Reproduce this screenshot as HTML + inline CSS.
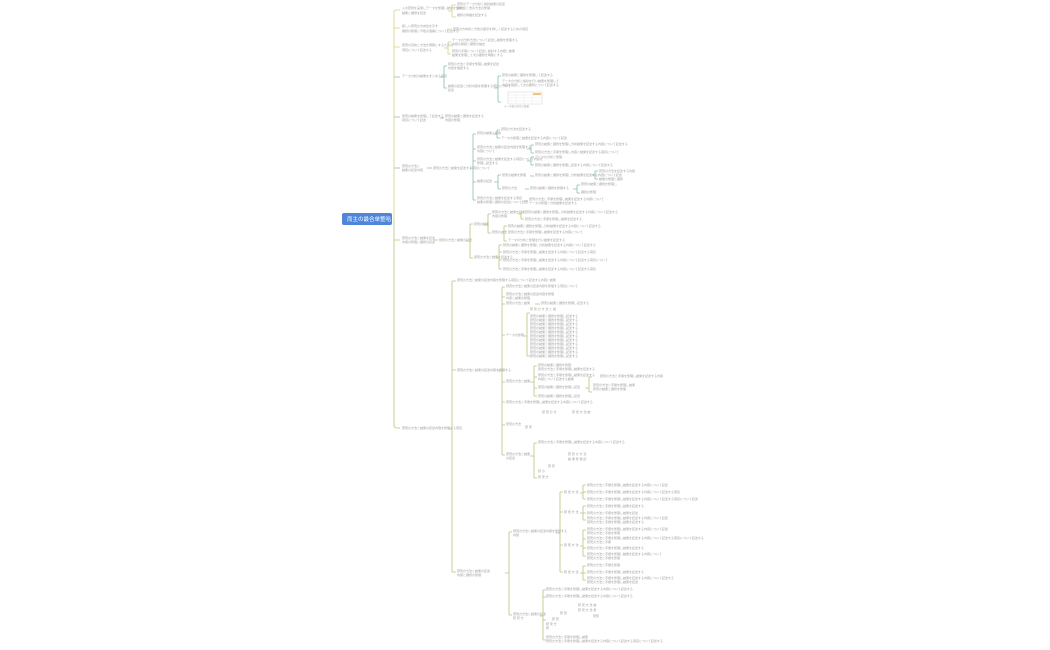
<!DOCTYPE html>
<html><head><meta charset="utf-8"><style>
html,body{margin:0;padding:0;background:#fff;width:1050px;height:650px;overflow:hidden}
svg{display:block}
text{font-family:"Liberation Sans","Noto Sans CJK JP",sans-serif;font-size:3px;fill:#a0a0a0}
.y{stroke:#d8cf86;fill:none;stroke-width:.8}
.t{stroke:#8dbfb3;fill:none;stroke-width:.8}
.g{stroke:#b9c47f;fill:none;stroke-width:.8}
</style></head><body>
<svg width="1050" height="650" viewBox="0 0 1050 650" xmlns="http://www.w3.org/2000/svg">
<path class="y" d="M394 220 V12 Q394 10 397 10 H400"/>
<path class="y" d="M394 28 H400 M394 47 H400"/>
<path class="t" d="M394 77 H400 M394 117 H400 M394 168 H400"/>
<path class="g" d="M394 220 V425 Q394 428 397 428 H400 M394 240 H400"/>
<rect x="342" y="213" width="50" height="12" rx="2" fill="#4f86d9"/>
<text x="347" y="221" style="fill:#fff;font-size:5.5px">而主の最合单整哈</text>

<text x="402" y="9">人の研究を実施しデータを整理し結果を集めた</text><text x="402" y="14">結果と課題を記述</text>
<path class="y" d="M448 11 H452 M452 5 V17 M452 5 H456 M452 17 H456"/>
<text x="457" y="5">研究のデータ分析と検討結果の記述</text><text x="457" y="9">課題点と改善方法の整理</text>
<text x="457" y="16">課題の詳細を記述する</text>
<text x="402" y="27">新しい研究の方向性を示す</text><text x="402" y="32">課題の整理と今後の展開について記述する</text>
<path class="y" d="M447 29 H452" style="stroke-width:.5"/>
<text x="453" y="30">研究の方向性と今後の展望を詳しく記述するための項目</text>
<text x="402" y="46">研究の目的と方法を明確にするための</text><text x="402" y="51">項目について記述する</text>
<path class="y" d="M444 48 H448 M448 42 V54 M448 42 H451 M448 54 H451"/>
<text x="452" y="41">データの分析方法について記述し結果を整理する</text><text x="452" y="45">内容の確認と課題の抽出</text>
<text x="452" y="52">研究の手順について記述し検討する内容と結果</text><text x="452" y="56">結果を整理して次の課題を明確にする</text>
<text x="402" y="77">データ分析の結果をまとめる項目</text>
<path class="t" d="M440 77 H444 M444 66 V88 M444 66 H447 M444 88 H447"/>
<text x="448" y="65">研究の方法と手順を整理し結果を記述</text><text x="448" y="69">内容を確認する</text>
<text x="448" y="87">結果の記述と分析内容を整理する項目について</text><text x="448" y="91">記述</text>
<path class="t" d="M494 88 H498 M498 76 V102 M498 76 H501 M498 102 H501"/>
<text x="502" y="76">研究の結果と課題を整理して記述する</text>
<text x="502" y="82">データの分析と検討を行い結果を整理して</text><text x="502" y="86">内容を確認して次の課題について記述する</text>
<rect x="508" y="92" width="34" height="12" fill="#fff" stroke="#ccc" stroke-width=".4"/>
<path d="M508 95 H542 M508 98 H542 M508 101 H542 M516 92 V104 M524 92 V104 M532 92 V104" stroke="#ddd" stroke-width=".3"/>
<rect x="533" y="93" width="8" height="2" fill="#f3c37a"/>
<text x="504" y="107" style="font-size:2.5px">データ表の記述と結果</text>
<text x="402" y="117">研究の結果を整理して記述する</text><text x="402" y="121">項目について記述</text>
<path class="t" d="M440 118 H444"/>
<text x="445" y="117">研究の結果と課題を記述する</text><text x="445" y="121">内容の整理</text>
<text x="402" y="167">研究の方法と</text><text x="402" y="171">結果の記述内容</text>
<path class="t" d="M427 168 H432"/>
<text x="433" y="169">研究の方法と結果を記述する項目について</text>
<path class="t" d="M470 168 H473 M473 134 V200 M473 134 H476 M473 149 H476 M473 161 H476 M473 182 H476 M473 200 H476"/>
<text x="477" y="134">研究の結果と課題</text>
<path class="t" d="M493 134 H497 M497 130 V138 M497 130 H500 M497 138 H500"/>
<text x="501" y="130">研究の方法を記述する</text><text x="501" y="139">データの整理と結果を記述する内容について記述</text>
<text x="477" y="148">研究の方法と結果の記述内容を整理する</text><text x="477" y="152">内容について</text>
<path class="t" d="M527 149 H531 M531 145 V153 M531 145 H534 M531 153 H534"/>
<text x="535" y="145">研究の結果と課題を整理し分析結果を記述する内容について記述する</text>
<text x="535" y="153">研究の方法と手順を整理し内容と結果を記述する項目について</text>
<text x="477" y="160">研究の方法と結果を記述する項目について内容を</text><text x="477" y="164">整理し記述する</text>
<path class="t" d="M527 161 H531 M531 157 V165 M531 157 H534 M531 165 H534"/>
<text x="535" y="158">データの分析と整理</text><text x="535" y="166">研究の結果と課題を整理し記述する内容について記述する</text>
<text x="477" y="182">結果の記述</text>
<path class="t" d="M494 182 H498 M498 175 V189 M498 175 H501 M498 189 H501"/>
<text x="502" y="176">研究の結果を整理</text>
<path class="t" d="M530 176 H534"/>
<text x="535" y="176">研究の結果と課題を整理し分析結果を記述する内容について記述</text>
<path class="t" d="M592 175 H595 M595 171 V179 M595 171 H598 M595 179 H598"/>
<text x="599" y="172">研究の方法を記述する内容</text><text x="599" y="180">結果の整理と課題</text>
<text x="502" y="189">研究の方法</text>
<path class="t" d="M525 189 H529"/>
<text x="530" y="189">研究の結果と課題を整理する</text>
<path class="t" d="M573 189 H577 M577 185 V193 M577 185 H580 M577 193 H580"/>
<text x="581" y="185">研究の結果と課題を整理し</text><text x="581" y="193">課題の整理</text>
<text x="477" y="199">研究の方法と結果を記述する項目</text><text x="477" y="203">結果の整理と課題の記述について記述</text>
<path class="t" d="M524 201 H528"/>
<text x="529" y="200">研究の方法と手順を整理し結果を記述する内容について</text><text x="529" y="204">データの整理と分析結果を記述する</text>

<text x="402" y="239">研究の方法と結果を記述</text><text x="402" y="243">内容の整理と課題の記述</text>
<path class="g" d="M434 240 H438"/>
<text x="439" y="241">研究の方法と結果の記述</text>
<path class="g" d="M466 241 H470 M470 224 V258 M470 224 H473 M470 258 H473"/>
<text x="474" y="225">研究の結果</text>
<path class="g" d="M484 225 H488 M488 214 V233 M488 214 H491 M488 233 H491"/>
<text x="492" y="213">研究の方法と結果を記述</text><text x="492" y="217">内容の整理</text>
<path class="g" d="M518 214 H521 M521 212 V219 M521 212 H524 M521 219 H524"/>
<text x="525" y="213">研究の結果と課題を整理し分析結果を記述する内容について記述する</text>
<text x="525" y="220">研究の方法と手順を整理し結果を記述する</text>
<text x="492" y="233">研究の方法</text>
<path class="g" d="M501 233 H504 M504 226 V241 M504 226 H507 M504 241 H507"/>
<text x="508" y="227">研究の結果と課題を整理し分析結果を記述する内容について記述する</text>
<text x="508" y="233">研究の方法と手順を整理し結果を記述する内容について</text>
<text x="508" y="241">データの分析と整理を行い結果を記述する</text>
<text x="474" y="258">研究の方法と結果を記述する</text>
<path class="g" d="M496 258 H499 M499 245 V269 M499 245 H502 M499 252 H502 M499 260 H502 M499 269 H502"/>
<text x="503" y="246">研究の結果と課題を整理し分析結果を記述する内容について記述する</text>
<text x="503" y="253">研究の方法と手順を整理し結果を記述する内容について記述する項目</text>
<text x="503" y="261">研究の方法と手順を整理し結果を記述する内容について記述する項目について</text>
<text x="503" y="270">研究の方法と手順を整理し結果を記述する内容について記述する項目</text>

<text x="402" y="429">研究の方法と結果の記述内容を整理する項目</text>
<path class="g" d="M448 429 H452 M452 281 V572 M452 281 H456 M452 370 H456 M452 572 H456"/>
<text x="457" y="281">研究の方法と結果の記述内容を整理する項目について記述する内容と結果</text>
<text x="457" y="371">研究の方法と結果の記述内容を整理する</text>
<path class="g" d="M498 371 H502 M502 287 V455 M502 287 H505 M502 297 H505 M502 304 H505 M502 335 H505 M502 382 H505 M502 402 H505 M502 425 H505 M502 455 H505"/>
<text x="506" y="287">研究の方法と結果の記述内容を整理する項目について</text>
<text x="506" y="295">研究の方法と結果の記述内容を整理</text><text x="506" y="299">内容と結果の整理</text>
<text x="506" y="304">研究の方法と結果</text>
<path class="g" d="M535 304 H540"/>
<text x="541" y="304">研究の結果と課題を整理し記述する</text>
<text x="506" y="336">データの整理</text>
<path class="g" d="M524 336 H527 M527 313 V356 M527 313 H530 M527 356 H530"/>
<text x="530" y="310">研 究 の 方 法 と 結</text>
<text x="530" y="317">研究の結果と課題を整理し記述する</text>
<text x="530" y="321">研究の結果と課題を整理し記述する</text>
<text x="530" y="325">研究の結果と課題を整理し記述する</text>
<text x="530" y="329">研究の結果と課題を整理し記述する</text>
<text x="530" y="333">研究の結果と課題を整理し記述する</text>
<text x="530" y="337">研究の結果と課題を整理し記述する</text>
<text x="530" y="341">研究の結果と課題を整理し記述する</text>
<text x="530" y="345">研究の結果と課題を整理し記述する</text>
<text x="530" y="349">研究の結果と課題を整理し記述する</text>
<text x="530" y="353">研究の結果と課題を整理し記述する</text>
<text x="530" y="357">研究の結果と課題を整理し記述する</text>
<text x="506" y="382">研究の方法と結果</text>
<path class="g" d="M530 382 H534 M534 366 V396 M534 366 H537 M534 377 H537 M534 388 H537 M534 396 H537"/>
<text x="538" y="366">研究の結果と課題を整理</text><text x="538" y="370">研究の方法と手順を整理し結果を記述する</text>
<text x="538" y="376">研究の方法と手順を整理し結果を記述する</text><text x="538" y="380">内容について記述する結果</text>
<text x="538" y="388">研究の結果と課題を整理し記述</text>
<path class="g" d="M585 388 H589 M589 377 V392 M589 377 H592 M589 392 H592"/>
<text x="600" y="377">研究の方法と手順を整理し結果を記述する内容</text>
<text x="593" y="386">研究の方法と手順を整理し結果</text><text x="593" y="390">研究の結果と課題を整理</text>
<text x="538" y="397">研究の結果と課題を整理し記述</text>
<text x="506" y="403">研究の方法と手順を整理し結果を記述する内容について記述する</text>
<text x="506" y="425">研究の方法</text>
<text x="525" y="428">研 究</text><text x="542" y="413">研 究 の 方</text><text x="572" y="413">研 究 方 法 結</text>
<text x="506" y="455">研究の方法と結果</text><text x="506" y="459">の記述</text>
<path class="g" d="M530 456 H534 M534 443 V478 M534 443 H537 M534 478 H537"/>
<text x="538" y="443">研究の方法と手順を整理し結果を記述する内容について記述する</text>
<text x="568" y="455">研 究 の 方 法</text><text x="568" y="460">結 果 整 理 記</text>
<text x="548" y="467">研 究</text><text x="538" y="472">研 の</text><text x="538" y="478">研 究 方</text>

<text x="457" y="572">研究の方法と結果の記述</text><text x="457" y="576">内容と課題の整理</text>
<path class="g" d="M505 573 H509 M509 532 V615 M509 532 H512 M509 615 H512"/>
<text x="513" y="532">研究の方法と結果の記述内容を整理する</text><text x="513" y="536">内容</text>
<path class="g" d="M556 533 H560 M560 492 V572 M560 492 H563 M560 512 H563 M560 545 H563 M560 572 H563"/>
<text x="564" y="493">研 究 方 法</text>
<path class="g" d="M580 493 H583 M583 485 V499 M583 485 H586 M583 492 H586 M583 499 H586"/>
<text x="587" y="486">研究の方法と手順を整理し結果を記述する内容について記述</text>
<text x="587" y="493">研究の方法と手順を整理し結果を記述する内容について記述する項目</text>
<text x="587" y="500">研究の方法と手順を整理し結果を記述する内容について記述する項目について記述</text>
<text x="564" y="513">研 究 方 法</text>
<path class="g" d="M580 513 H583 M583 506 V520 M583 506 H586 M583 513 H586 M583 520 H586"/>
<text x="587" y="507">研究の方法と手順を整理し結果を記述する</text>
<text x="587" y="514">研究の方法と手順を整理し結果を記述</text>
<text x="587" y="519">研究の方法と手順を整理し結果を記述する内容について記述</text><text x="587" y="523">研究の方法と手順を整理し結果を記述する</text>
<text x="564" y="546">研 究 方 法</text>
<path class="g" d="M580 546 H583 M583 530 V556 M583 530 H586 M583 539 H586 M583 548 H586 M583 556 H586"/>
<text x="587" y="530">研究の方法と手順を整理し結果を記述する内容について記述</text><text x="587" y="534">研究の方法と手順を整理</text>
<text x="587" y="539">研究の方法と手順を整理し結果を記述する内容について記述する項目について記述する</text><text x="587" y="543">研究の方法と手順</text>
<text x="587" y="549">研究の方法と手順を整理し結果を記述する</text>
<text x="587" y="555">研究の方法と手順を整理し結果を記述する内容について</text><text x="587" y="559">研究の方法と手順を整理</text>
<text x="564" y="573">研 究 方 法</text>
<path class="g" d="M580 573 H583 M583 566 V580 M583 566 H586 M583 573 H586 M583 580 H586"/>
<text x="587" y="566">研究の方法と手順を整理</text>
<text x="587" y="573">研究の方法と手順を整理し結果を記述する</text>
<text x="587" y="579">研究の方法と手順を整理し結果を記述する内容について記述する</text><text x="587" y="583">研究の方法と手順を整理し結果を記述</text>

<text x="513" y="615">研究の方法と結果の記述</text><text x="513" y="619">研 究 方</text>
<path class="g" d="M540 616 H543 M543 590 V640 M543 590 H546 M543 597 H546 M543 620 H546 M543 640 H546"/>
<text x="546" y="590">研究の方法と手順を整理し結果を記述する内容について記述する</text>
<text x="546" y="597">研究の方法と手順を整理し結果を記述する内容について記述する</text>
<text x="578" y="606">研 究 方 法 結</text><text x="578" y="611">研 究 方 法 整</text><text x="593" y="617">研究</text>
<text x="560" y="614">研 究</text><text x="552" y="620">研 究</text><text x="546" y="625">研 究 方</text><text x="546" y="629">研</text>
<text x="546" y="638">研究の方法と手順を整理し結果</text><text x="546" y="642">研究の方法と手順を整理し結果を記述する内容について記述する項目について記述する</text>
</svg>
</body></html>
